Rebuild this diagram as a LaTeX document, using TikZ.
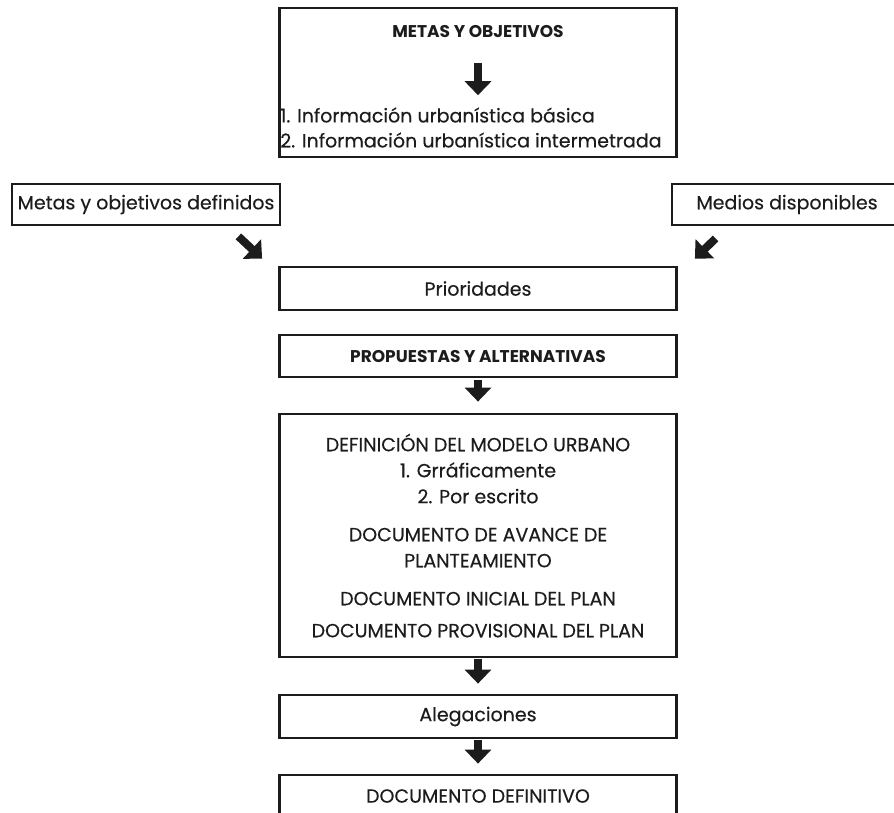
\documentclass[tikz,border=0pt]{standalone}
\usepackage{fontspec}
\setmainfont{Poppins}[UprightFeatures={FakeBold=0.3}]
\usepackage{xcolor}
\definecolor{planInk}{HTML}{1C1C1C}
\usetikzlibrary{positioning, arrows.meta}

\begin{document}
\begin{tikzpicture}[x=1pt, y=1pt,
  every node/.style={font=\fontsize{19}{23}\selectfont, text=planInk},
  box/.style={rectangle, draw=planInk, line width=2.8pt, fill=white,
              minimum width=397pt, minimum height=42pt, align=center},
  boldtext/.style={font=\bfseries\fontsize{17}{22}\selectfont},
  blockarrow/.style={-{Triangle[width=26pt, length=14pt]}, line width=8pt, draw=planInk},
]
\useasboundingbox (0,0) rectangle (894,-812);

% Metas y objetivos
\node[box, minimum height=149pt] (meta) at (478,-82.5) {};
\node[boldtext] (metatit) at ([yshift=-25]meta.north) {METAS Y OBJETIVOS};
\node[anchor=west, align=left, inner sep=2pt, font=\fontsize{19}{25}\selectfont] (metalist)
      at ([yshift=-45]meta.west)
      {1. Información urbanística básica\\
       2. Información urbanística intermetrada};

% Side inputs
\node[box, minimum width=268pt, minimum height=41pt] (def) at (146,-204.5)
      {Metas y objetivos definidos};
\node[box, minimum width=230pt, minimum height=41pt] (medios) at (787,-204.5)
      {Medios disponibles};

% Main column
\node[box, minimum height=43pt, below=107.2pt of meta] (prio) {Prioridades};
\node[box, boldtext, below=22.2pt of prio] (prop) {PROPUESTAS Y ALTERNATIVAS};
\node[box, minimum height=243pt, below=34.2pt of prop, font=\fontsize{19}{26}\selectfont] (modelo)
      {DEFINICIÓN DEL MODELO URBANO\\
       1. Grráficamente\\
       2. Por escrito\\[12pt]
       DOCUMENTO DE AVANCE DE\\
       PLANTEAMIENTO\\[12pt]
       DOCUMENTO INICIAL DEL PLAN\\[6pt]
       DOCUMENTO PROVISIONAL DEL PLAN};
\node[box, minimum height=43pt, below=35.2pt of modelo] (aleg) {Alegaciones};
\node[box, minimum height=42pt, below=34.2pt of aleg] (final) {DOCUMENTO DEFINITIVO};

% Arrows
\draw[blockarrow, shorten <=22pt] (metatit.south) -- ([yshift=10pt]metatit.south |- metalist.north);
\draw[blockarrow] ([shift={(-43,-10)}]def.south east) -- ([shift={(-16,7)}]prio.north west);
\draw[blockarrow] ([shift={(45,-12)}]medios.south west) -- ([shift={(17,7)}]prio.north east);
\draw[blockarrow, shorten <=2pt, shorten >=11pt] (prop) -- (modelo);
\draw[blockarrow, shorten <=1pt, shorten >=10pt] (modelo) -- (aleg);
\draw[blockarrow, shorten <=1pt, shorten >=10pt] (aleg) -- (final);

\end{tikzpicture}
\end{document}
